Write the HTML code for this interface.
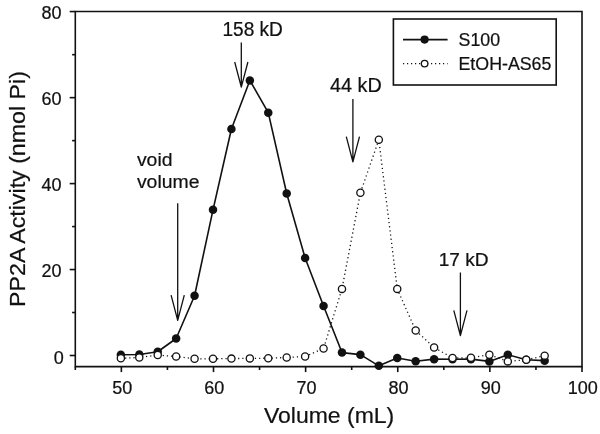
<!DOCTYPE html>
<html><head><meta charset="utf-8"><title>PP2A Activity</title>
<style>html,body{margin:0;padding:0;background:#fff}svg{display:block}text{font-family:"Liberation Sans",Arial,Helvetica,sans-serif;fill:#111;stroke:#111;stroke-width:0.22px}</style></head><body>
<svg width="600" height="434" viewBox="0 0 600 434">
<rect width="600" height="434" fill="#fff"/>
<g fill="none" stroke="#111" stroke-width="1.6" stroke-linecap="butt">
<path d="M75.30 366.60V11.55H582.01V366.60H74.50"/>
<path d="M69.70 355.50H75.30"/>
<path d="M72.10 312.52H75.30"/>
<path d="M69.70 269.55H75.30"/>
<path d="M72.10 226.57H75.30"/>
<path d="M69.70 183.60H75.30"/>
<path d="M72.10 140.62H75.30"/>
<path d="M69.70 97.65H75.30"/>
<path d="M72.10 54.67H75.30"/>
<path d="M69.70 11.55H75.30"/>
<path d="M75.30 366.60V370.00"/>
<path d="M121.36 366.60V372.10"/>
<path d="M167.43 366.60V370.00"/>
<path d="M213.50 366.60V372.10"/>
<path d="M259.56 366.60V370.00"/>
<path d="M305.62 366.60V372.10"/>
<path d="M351.69 366.60V370.00"/>
<path d="M397.75 366.60V372.10"/>
<path d="M443.82 366.60V370.00"/>
<path d="M489.88 366.60V372.10"/>
<path d="M535.95 366.60V370.00"/>
<path d="M582.01 366.60V372.10"/>
</g>
<text transform="translate(61.60 277.15) scale(1 1.0)" font-size="18px" text-anchor="end">20</text>
<text transform="translate(61.60 191.20) scale(1 1.0)" font-size="18px" text-anchor="end">40</text>
<text transform="translate(61.60 105.25) scale(1 1.0)" font-size="18px" text-anchor="end">60</text>
<text transform="translate(61.60 19.30) scale(1 1.0)" font-size="18px" text-anchor="end">80</text>
<text transform="translate(63.80 363.80) scale(1 1.0)" font-size="18px" text-anchor="end">0</text>
<text transform="translate(122.16 394.30) scale(1 1.0)" font-size="18px" text-anchor="middle">50</text>
<text transform="translate(214.30 394.30) scale(1 1.0)" font-size="18px" text-anchor="middle">60</text>
<text transform="translate(306.43 394.30) scale(1 1.0)" font-size="18px" text-anchor="middle">70</text>
<text transform="translate(398.56 394.30) scale(1 1.0)" font-size="18px" text-anchor="middle">80</text>
<text transform="translate(490.69 394.30) scale(1 1.0)" font-size="18px" text-anchor="middle">90</text>
<text transform="translate(582.81 394.30) scale(1 1.0)" font-size="18px" text-anchor="middle">100</text>
<text transform="translate(329.10 422.50) scale(1 0.975)" font-size="23px" text-anchor="middle">Volume (mL)</text>
<text transform="translate(24.60 189.00) rotate(-90) scale(1 0.975)" font-size="23.2px" text-anchor="middle">PP2A Activity (nmol Pi)</text>
<polyline points="120.86,354.77 139.29,354.47 157.72,351.76 176.14,338.48 194.57,295.76 213.00,209.81 231.42,129.02 249.85,80.46 268.27,112.69 286.70,193.48 305.12,257.95 323.55,306.08 341.98,352.58 360.40,354.64 378.83,365.81 397.25,357.99 415.68,361.22 434.11,359.15 452.53,359.20 470.96,359.15 489.38,361.39 507.81,354.73 526.24,359.80 544.66,360.66" fill="none" stroke="#111" stroke-width="1.6" stroke-linejoin="round"/>
<circle cx="120.86" cy="354.77" r="4.25" fill="#111"/>
<circle cx="139.29" cy="354.47" r="4.25" fill="#111"/>
<circle cx="157.72" cy="351.76" r="4.25" fill="#111"/>
<circle cx="176.14" cy="338.48" r="4.25" fill="#111"/>
<circle cx="194.57" cy="295.76" r="4.25" fill="#111"/>
<circle cx="213.00" cy="209.81" r="4.25" fill="#111"/>
<circle cx="231.42" cy="129.02" r="4.25" fill="#111"/>
<circle cx="249.85" cy="80.46" r="4.25" fill="#111"/>
<circle cx="268.27" cy="112.69" r="4.25" fill="#111"/>
<circle cx="286.70" cy="193.48" r="4.25" fill="#111"/>
<circle cx="305.12" cy="257.95" r="4.25" fill="#111"/>
<circle cx="323.55" cy="306.08" r="4.25" fill="#111"/>
<circle cx="341.98" cy="352.58" r="4.25" fill="#111"/>
<circle cx="360.40" cy="354.64" r="4.25" fill="#111"/>
<circle cx="378.83" cy="365.81" r="4.25" fill="#111"/>
<circle cx="397.25" cy="357.99" r="4.25" fill="#111"/>
<circle cx="415.68" cy="361.22" r="4.25" fill="#111"/>
<circle cx="434.11" cy="359.15" r="4.25" fill="#111"/>
<circle cx="452.53" cy="359.20" r="4.25" fill="#111"/>
<circle cx="470.96" cy="359.15" r="4.25" fill="#111"/>
<circle cx="489.38" cy="361.39" r="4.25" fill="#111"/>
<circle cx="507.81" cy="354.73" r="4.25" fill="#111"/>
<circle cx="526.24" cy="359.80" r="4.25" fill="#111"/>
<circle cx="544.66" cy="360.66" r="4.25" fill="#111"/>
<polyline points="120.86,358.21 139.29,357.52 157.72,355.07 176.14,356.49 194.57,358.81 213.00,358.81 231.42,358.59 249.85,358.38 268.27,358.21 286.70,357.52 305.12,356.49 323.55,348.50 341.98,288.89 360.40,192.80 378.83,139.77 397.25,288.89 415.68,330.57 434.11,347.46 452.53,357.99 470.96,357.78 489.38,354.73 507.81,361.39 526.24,359.80 544.66,355.67" fill="none" stroke="#111" stroke-width="1.3" stroke-dasharray="1.2 3.0"/>
<circle cx="120.86" cy="358.21" r="3.6" fill="#fff" stroke="#111" stroke-width="1.3"/>
<circle cx="139.29" cy="357.52" r="3.6" fill="#fff" stroke="#111" stroke-width="1.3"/>
<circle cx="157.72" cy="355.07" r="3.6" fill="#fff" stroke="#111" stroke-width="1.3"/>
<circle cx="176.14" cy="356.49" r="3.6" fill="#fff" stroke="#111" stroke-width="1.3"/>
<circle cx="194.57" cy="358.81" r="3.6" fill="#fff" stroke="#111" stroke-width="1.3"/>
<circle cx="213.00" cy="358.81" r="3.6" fill="#fff" stroke="#111" stroke-width="1.3"/>
<circle cx="231.42" cy="358.59" r="3.6" fill="#fff" stroke="#111" stroke-width="1.3"/>
<circle cx="249.85" cy="358.38" r="3.6" fill="#fff" stroke="#111" stroke-width="1.3"/>
<circle cx="268.27" cy="358.21" r="3.6" fill="#fff" stroke="#111" stroke-width="1.3"/>
<circle cx="286.70" cy="357.52" r="3.6" fill="#fff" stroke="#111" stroke-width="1.3"/>
<circle cx="305.12" cy="356.49" r="3.6" fill="#fff" stroke="#111" stroke-width="1.3"/>
<circle cx="323.55" cy="348.50" r="3.6" fill="#fff" stroke="#111" stroke-width="1.3"/>
<circle cx="341.98" cy="288.89" r="3.6" fill="#fff" stroke="#111" stroke-width="1.3"/>
<circle cx="360.40" cy="192.80" r="3.6" fill="#fff" stroke="#111" stroke-width="1.3"/>
<circle cx="378.83" cy="139.77" r="3.6" fill="#fff" stroke="#111" stroke-width="1.3"/>
<circle cx="397.25" cy="288.89" r="3.6" fill="#fff" stroke="#111" stroke-width="1.3"/>
<circle cx="415.68" cy="330.57" r="3.6" fill="#fff" stroke="#111" stroke-width="1.3"/>
<circle cx="434.11" cy="347.46" r="3.6" fill="#fff" stroke="#111" stroke-width="1.3"/>
<circle cx="452.53" cy="357.99" r="3.6" fill="#fff" stroke="#111" stroke-width="1.3"/>
<circle cx="470.96" cy="357.78" r="3.6" fill="#fff" stroke="#111" stroke-width="1.3"/>
<circle cx="489.38" cy="354.73" r="3.6" fill="#fff" stroke="#111" stroke-width="1.3"/>
<circle cx="507.81" cy="361.39" r="3.6" fill="#fff" stroke="#111" stroke-width="1.3"/>
<circle cx="526.24" cy="359.80" r="3.6" fill="#fff" stroke="#111" stroke-width="1.3"/>
<circle cx="544.66" cy="355.67" r="3.6" fill="#fff" stroke="#111" stroke-width="1.3"/>
<rect x="393.4" y="19.0" width="162.8" height="66.0" fill="#fff" stroke="#111" stroke-width="1.6"/>
<path d="M403 39.6H447.6" stroke="#111" stroke-width="1.6"/>
<circle cx="424.6" cy="39.6" r="4.1" fill="#111"/>
<path d="M403 63.6H447.6" stroke="#111" stroke-width="1.3" stroke-dasharray="1.2 2.8"/>
<circle cx="424.6" cy="63.6" r="3.3" fill="#fff" stroke="#111" stroke-width="1.3"/>
<text transform="translate(458.60 46.30) scale(1 1.0)" font-size="17.8px">S100</text>
<text transform="translate(458.50 70.40) scale(1 1.0)" font-size="17.8px">EtOH-AS65</text>
<text transform="translate(222.40 35.55) scale(1 1.03)" font-size="19.1px">158 kD</text>
<text transform="translate(330.00 92.30) scale(1 0.985)" font-size="19.8px">44 kD</text>
<text transform="translate(438.70 265.70) scale(1 1.0)" font-size="19.1px">17 kD</text>
<text transform="translate(136.90 166.40) scale(1 0.985)" font-size="19.4px">void</text>
<text transform="translate(136.90 188.35) scale(1 0.985)" font-size="19.4px">volume</text>
<path d="M241.30 42.60V86.20M234.70 62.00L241.30 87.20L247.90 62.00" fill="none" stroke="#111" stroke-width="1.3" stroke-linejoin="round"/>
<path d="M352.90 98.90V160.90M346.30 136.70L352.90 161.90L359.50 136.70" fill="none" stroke="#111" stroke-width="1.3" stroke-linejoin="round"/>
<path d="M460.40 272.60V334.60M453.80 310.40L460.40 335.60L467.00 310.40" fill="none" stroke="#111" stroke-width="1.3" stroke-linejoin="round"/>
<path d="M177.70 203.20V319.30M171.10 295.10L177.70 320.30L184.30 295.10" fill="none" stroke="#111" stroke-width="1.3" stroke-linejoin="round"/>
</svg></body></html>
